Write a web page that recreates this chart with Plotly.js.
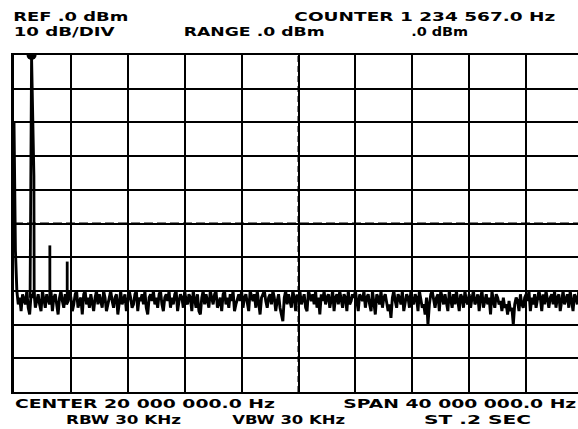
<!DOCTYPE html>
<html>
<head>
<meta charset="utf-8">
<script src="https://cdn.plot.ly/plotly-3.0.1.min.js"></script>
<style>html,body{margin:0;padding:0;background:#fff;}#chart{width:578px;height:429px;}</style>
</head>
<body>
<div id="chart"></div>
<script>
// Spectrum analyzer settings (MHz, dBm)
const startFreq = 0;
const stopFreq = 40;
const refLevel = 0;
const dbPerDiv = 10;

// Sweep trace (dBm), 401 points equally spaced from 0 to 40 MHz
const traceDbm = [
 -20,-58,-70,-74,-72,-76,-71,-73,-74,-70,-75,-77,-71,-72,-70,-75,-73,-71,-74,-76,
 -70,-72,-75,-71,-73,-74,-70,-76,-72,-71,-74,-77,-72,-70,-73,-75,-71,-74,-73,-70,
 -72,-76,-74,-71,-70,-75,-73,-72,-77,-71,-70,-74,-72,-75,-71,-73,-76,-72,-70,-74,
 -71,-73,-75,-70,-72,-76,-74,-71,-70,-73,-75,-72,-71,-77,-73,-70,-74,-72,-71,-76,
 -73,-70,-72,-75,-74,-71,-70,-76,-72,-73,-71,-74,-70,-75,-77,-72,-71,-73,-70,-74,
 -72,-75,-71,-70,-74,-76,-72,-71,-73,-70,-75,-72,-74,-71,-70,-76,-73,-71,-72,-75,
 -70,-73,-74,-71,-72,-76,-70,-73,-75,-71,-76,-77,-72,-70,-74,-71,-73,-75,-70,-72,
 -74,-71,-70,-75,-73,-72,-76,-71,-70,-74,-72,-75,-71,-73,-70,-76,-74,-72,-71,-73,
 -70,-75,-72,-71,-74,-76,-70,-72,-73,-71,-75,-70,-74,-77,-72,-71,-70,-73,-75,-72,
 -71,-74,-70,-72,-76,-73,-71,-75,-77,-79,-72,-70,-74,-71,-73,-75,-70,-72,-76,-71,
 -73,-70,-74,-72,-71,-75,-76,-70,-72,-73,-71,-74,-70,-75,-72,-77,-71,-73,-70,-74,
 -72,-71,-75,-73,-70,-76,-72,-71,-74,-70,-73,-75,-71,-72,-76,-70,-74,-73,-71,-72,
 -70,-74,-76,-71,-72,-73,-70,-75,-72,-71,-74,-76,-70,-73,-77,-71,-72,-74,-70,-75,
 -72,-71,-73,-76,-74,-78,-72,-70,-73,-75,-71,-72,-74,-70,-76,-73,-71,-72,-75,-70,
 -73,-74,-71,-72,-76,-70,-73,-75,-74,-77,-72,-80,-74,-71,-70,-73,-75,-72,-71,-76,
 -70,-72,-74,-71,-73,-76,-70,-72,-75,-71,-74,-70,-73,-76,-71,-72,-75,-70,-73,-74,
 -71,-75,-72,-70,-74,-73,-71,-76,-72,-70,-75,-73,-71,-74,-72,-77,-70,-73,-75,-71,
 -72,-74,-73,-76,-72,-75,-74,-77,-73,-76,-75,-80,-74,-72,-73,-76,-71,-74,-75,-72,
 -71,-73,-70,-76,-72,-74,-71,-75,-73,-70,-72,-76,-71,-74,-70,-73,-75,-72,-71,-74,
 -70,-75,-72,-71,-76,-73,-70,-74,-72,-71,-75,-70,-73,-76,-71,-72,-74,-70,-73,-75,
 -72
];

// Discrete signal responses: fundamental (with skirt) and harmonics
const signalFreq = [1.13, 1.2346, 1.40, 1.42, null, 2.52, 2.52, null, 3.74, 3.74];
const signalDbm  = [-72, 0, -36, -72, null, -72, -56.5, null, -72, -61.3];

// Marker on the fundamental
const markerFreq = [1.2346];
const markerDbm = [0];

// Annotation texts
const headerLeft1 = "REF .0 dBm";
const headerLeft2 = "10 dB/DIV";
const headerRange = "RANGE .0 dBm";
const headerCounter = "COUNTER 1 234 567.0 Hz";
const headerMkr = ".0 dBm";
const footCenter = "CENTER 20 000 000.0 Hz";
const footSpan = "SPAN 40 000 000.0 Hz";
const footRbw = "RBW 30 KHz";
const footVbw = "VBW 30 KHz";
const footSt = "ST .2 SEC";

const W = 578, H = 429;
const L = 14, T = 55, B = 37, R = 0;
const plotW = W - L - R, plotH = H - T - B;
const pxPerMHz = 56.9 / 4;
const visStop = plotW / pxPerMHz;

function px(x){ return (x - L) / plotW; }
function py(y){ return (H - B - y) / plotH; }

const font = {family: "DejaVu Sans", size: 13, color: "#000", weight: 700};
const stretch = [];
function ann(text, left, right, y){
  stretch.push(right - left);
  return {text: text, xref: "paper", yref: "paper", x: px((left + right) / 2), y: py(y),
    xanchor: "center", yanchor: "middle", showarrow: false, font: font, borderpad: 0};
}

const traces = [
  {type: "scatter", mode: "lines", x0: startFreq, dx: (stopFreq - startFreq) / (traceDbm.length - 1),
   y: traceDbm, line: {color: "#000", width: 2.9}, hoverinfo: "skip"},
  {type: "scatter", mode: "lines", x: signalFreq, y: signalDbm, connectgaps: false,
   line: {color: "#000", width: 2.8}, hoverinfo: "skip"},
  {type: "scatter", mode: "markers", x: markerFreq, y: markerDbm,
   marker: {color: "#000", size: 10, symbol: "circle"}, hoverinfo: "skip"}
];

const centerFreq = (startFreq + stopFreq) / 2;
const centerDb = refLevel - 5 * dbPerDiv;

const layout = {
  width: W, height: H,
  margin: {l: L, r: R, t: T, b: B, pad: 0},
  paper_bgcolor: "#fff", plot_bgcolor: "#fff",
  showlegend: false,
  xaxis: {range: [startFreq, visStop], tick0: 0, dtick: 4, showgrid: true, gridcolor: "#000", gridwidth: 2,
          showline: true, linecolor: "#000", linewidth: 2, mirror: true, zeroline: false,
          showticklabels: false, ticks: "", fixedrange: true},
  yaxis: {range: [refLevel - 10 * dbPerDiv, refLevel], tick0: 0, dtick: dbPerDiv, showgrid: true, gridcolor: "#000", gridwidth: 2,
          showline: true, linecolor: "#000", linewidth: 3, mirror: false, zeroline: false,
          showticklabels: false, ticks: "", fixedrange: true},
  shapes: [
    {type: "line", layer: "between", xref: "x", yref: "paper", x0: centerFreq, x1: centerFreq, y0: 0, y1: 1, line: {color: "#fff", width: 3}},
    {type: "line", layer: "between", xref: "x", yref: "paper", x0: centerFreq, x1: centerFreq, y0: 0, y1: 1, line: {color: "#000", width: 2, dash: "6px,4px"}},
    {type: "line", layer: "between", xref: "paper", yref: "y", x0: 0, x1: 1, y0: centerDb, y1: centerDb, line: {color: "#fff", width: 3}},
    {type: "line", layer: "between", xref: "paper", yref: "y", x0: 0, x1: 1, y0: centerDb, y1: centerDb, line: {color: "#000", width: 2, dash: "9px,4px"}}
  ],
  annotations: [
    ann(headerLeft1, 13, 128, 16.5),
    ann(headerCounter, 294, 555, 16.5),
    ann(headerLeft2, 13, 114, 31.5),
    ann(headerRange, 183, 324, 31.5),
    ann(headerMkr, 411, 468, 31.5),
    ann(footCenter, 15, 275, 404),
    ann(footSpan, 343, 576, 404),
    ann(footRbw, 66, 181, 419),
    ann(footVbw, 232, 345, 419),
    ann(footSt, 424, 531, 419)
  ]
};

Plotly.newPlot("chart", traces, layout, {staticPlot: true, displayModeBar: false}).then(function(gd){
  stretch.forEach(function(w, i){
    const t = gd.querySelector('.annotation[data-index="' + i + '"] text.annotation-text');
    if (t) { t.setAttribute("textLength", w); t.setAttribute("lengthAdjust", "spacingAndGlyphs"); }
  });
});
</script>
</body>
</html>
